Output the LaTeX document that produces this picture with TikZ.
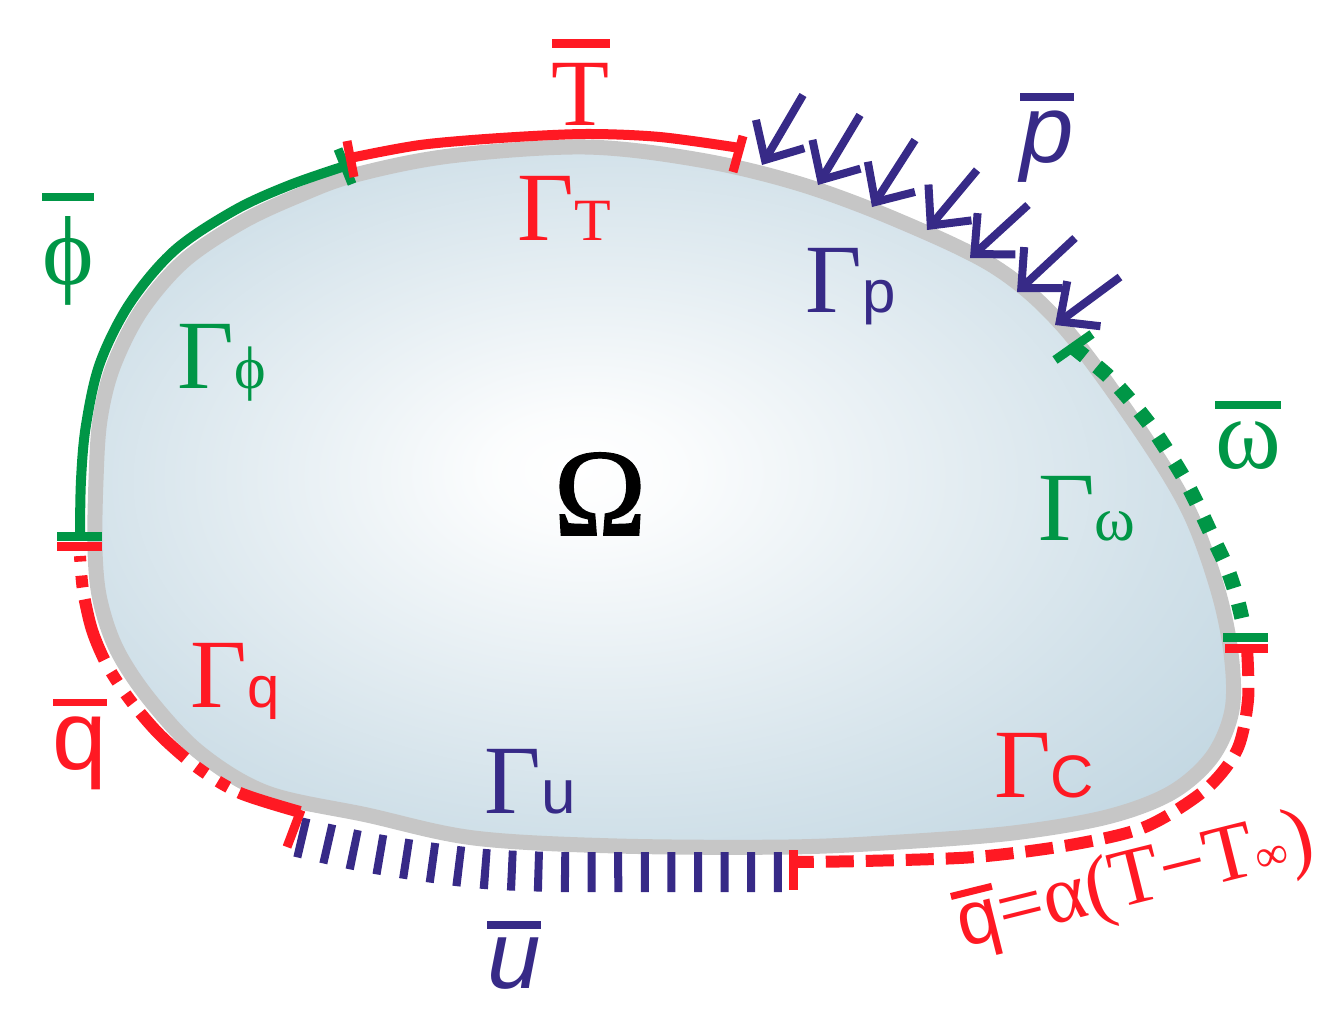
\documentclass[tikz,border=0pt]{standalone}
\usepackage{fontspec}
\setmainfont{Liberation Serif}
\newfontfamily\sfam{Liberation Sans}
\newfontfamily\rmfam{Liberation Serif}
\newfontfamily\omfam[FakeBold=1.5]{Liberation Serif}
\usetikzlibrary{arrows.meta}
\definecolor{cred}{RGB}{255,25,35}
\definecolor{cgreen}{RGB}{0,150,70}
\definecolor{cblue}{RGB}{55,42,135}
\definecolor{cgray}{RGB}{198,198,198}
\definecolor{fillblue}{RGB}{178,204,218}
\pgfdeclareradialshading{blobshade}{\pgfpoint{-4bp}{2bp}}{color(0bp)=(white); color(4bp)=(white!95!fillblue); color(24bp)=(white!42!fillblue); color(42bp)=(fillblue); color(50bp)=(fillblue)}
\newcommand\ob[3]{\vbox{\hrule height #1pt\kern #2pt\hbox{#3}}}
\newcommand\fs[1]{\fontsize{#1}{#1}\selectfont}
\tikzset{
  lbl/.style={inner sep=0pt, anchor=base},
  barline/.style={line width=9pt},
  parrow/.style={cblue, line width=8pt, -{Straight Barb[length=30pt,width=56pt]}},
  bnd/.style={line width=10pt},
}
\begin{document}
\begin{tikzpicture}[x=1pt,y=-1pt,line cap=butt]
\useasboundingbox (0,0) rectangle (1336,1017);
\def\blobpath{plot[smooth cycle, tension=0.55] coordinates {(95,550) (96,480) (100,420) (113,367) (141,311) (184,261) (242,222) (300,195) (355,175) (450,156) (585,147) (700,160) (800,184) (897,220) (995,267) (1062,325) (1133,420) (1187,507) (1217,587) (1231,653) (1232,710) (1212,757) (1171,793) (1107,817) (1013,833) (900,842) (788,847) (617,846) (474,838) (367,815) (267,793) (200,753) (150,700) (117,650) (100,600)}}
\shade[shading=blobshade] \blobpath;
\draw[cgray, line width=15pt] \blobpath;

% Gamma_phi (green solid)
\draw[cgreen, bnd] plot[smooth, tension=0.55] coordinates {(80,537) (81,480) (86,425) (100,363) (130,303) (175,250) (235,210) (290,185) (345,166)};
\draw[cgreen, barline] (57,536) -- (102,536);
\draw[cgreen, barline] (338,149) -- (352,184);

% Gamma_T (red solid)
\draw[cred, bnd] plot[smooth] coordinates {(350,158) (420,145) (500,138) (585,134) (660,137) (740,148)};
\draw[cred, barline] (347,141) -- (354,177);
\draw[cred, barline] (743,136) -- (733,172);

% Gamma_p arrows
\coordinate (a1s) at (803,95);   \coordinate (a1e) at (762,165);
\coordinate (a2s) at (860,115);  \coordinate (a2e) at (818,185);
\coordinate (a3s) at (915,140);  \coordinate (a3e) at (872,207);
\coordinate (a4s) at (977,170);  \coordinate (a4e) at (927,230);
\coordinate (a5s) at (1028,205); \coordinate (a5e) at (970,258);
\coordinate (a6s) at (1075,238); \coordinate (a6e) at (1017,292);
\coordinate (a7s) at (1120,277); \coordinate (a7e) at (1055,325);
\foreach \i in {1,...,7} { \draw[parrow] (a\i s) -- (a\i e); }

% Gamma_omega (green dotted)
\draw[cgreen, line width=15pt, dash pattern=on 15pt off 16pt] plot[smooth] coordinates {(1073,347) (1107,375) (1130,400) (1150,425) (1168,452) (1185,480) (1200,510) (1213,538) (1227,568) (1237,598) (1245,632)};
\draw[cgreen, barline] (1055,360) -- (1092,334);
\draw[cgreen, barline] (1223,637) -- (1268,637);

% Gamma_C (red dashed)
\draw[cred, line width=12pt, dash pattern=on 28pt off 12pt] plot[smooth] coordinates {(1247,648) (1248,700) (1237,750) (1205,790) (1145,827) (1070,845) (975,857) (863,861) (795,862)};
\draw[cred, barline] (1225,648) -- (1268,648);
\draw[cred, barline] (793,850) -- (793,890);

% Gamma_u (blue ticks)
\draw[cblue, line width=40pt, dash pattern=on 8pt off 18.6pt] plot[smooth] coordinates {(298,837) (360,851) (420,861) (485,869) (560,872) (680,872) (782,872)};

% Gamma_q (red dash-dot-dot)
\draw[cred, line width=12pt, dash pattern=on 64pt off 12pt on 12pt off 14pt on 12pt off 14pt] plot[smooth] coordinates {(300,812) (240,793) (198,768) (160,735) (130,700) (107,665) (92,630) (83,590) (80,556)};
\draw[cred, barline] (57,546) -- (102,546);
\draw[cred, barline] (301,810) -- (287,847);

% labels
\node[lbl, cred] (Tbar) at (581,125) {\ob{9}{15}{\rmfam\fs{95}T}};
\node[lbl, cred] (GT) at (564,240) {\rmfam\fs{98}Γ\fs{60}T};
\node[lbl, cgreen] (phibar) at (68,284) {\ob{8}{15}{\rmfam\fs{98}ϕ}};
\node[lbl, cgreen] (Gphi) at (222,388) {\rmfam\fs{98}Γ\fs{60}ϕ};
\node[lbl] (Omega) at (600,535) {\omfam\fs{124}Ω};
\node[lbl, cblue] (Gp) at (851,312) {\rmfam\fs{98}Γ\sfam\fs{60}p};
\node[lbl, cblue] (pbar) at (1047,162) {\ob{8}{9}{\sfam\itshape\fs{96}p}};
\node[lbl, cgreen] (wbar) at (1248,468) {\ob{8}{12}{\rmfam\fs{100}ω}};
\node[lbl, cgreen] (Gw) at (1087,540) {\rmfam\fs{98}Γ\fs{62}ω};
\node[lbl, cred] (Gq) at (235,707) {\rmfam\fs{98}Γ\sfam\fs{58}q};
\node[lbl, cred] (qbar) at (80,769) {\ob{7}{10}{\sfam\fs{98}q}};
\node[lbl, cblue] (Gu) at (530,813) {\rmfam\fs{98}Γ\sfam\fs{62}u};
\node[lbl, cblue] (ubar) at (514,988) {\ob{8}{8}{\sfam\itshape\fs{96}u}};
\node[lbl, cred] (GC) at (1044,797) {\rmfam\fs{98}Γ\sfam\fs{60}C};
\node[cred, inner sep=0pt, rotate=14] (form) at (1136,884) {\ob{7}{8}{\sfam\fs{76}q}\rmfam\fs{82}=α(T−T\fs{46}∞\fs{82})};
\end{tikzpicture}
\end{document}
